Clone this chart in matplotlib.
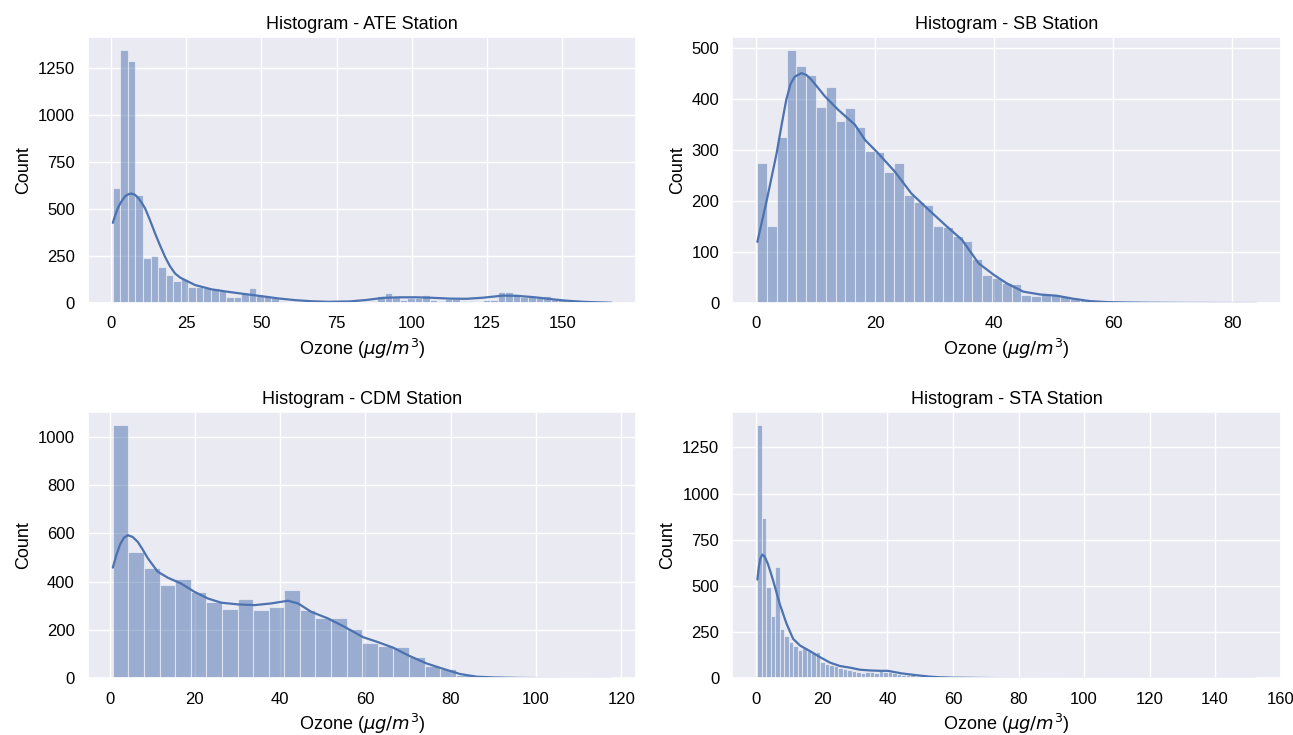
import numpy as np
import matplotlib
matplotlib.use("Agg")
import matplotlib.pyplot as plt
from matplotlib.ticker import MultipleLocator
import seaborn as sns

# histogram bins: first edge, bin width, counts
ate_start, ate_width = 0.66, 2.507
ate_counts = [610, 1348, 1289, 575, 240, 252, 190, 147, 120, 130,
              88, 88, 82, 80, 70, 35, 30, 50, 80, 45,
              38, 28, 13, 8, 5, 3, 2, 2, 1, 1,
              1, 2, 2, 4, 10, 39, 52, 35, 18, 28,
              26, 45, 17, 12, 24, 24, 12, 10, 5, 14,
              18, 57, 57, 46, 30, 36, 36, 40, 22, 18,
              10, 5, 3, 2, 8, 5]
ate_kde_x = [0.66, 1.5, 2.3, 3.1, 4.0, 4.8, 5.8, 6.95, 8.1, 9.2,
             10.3, 11.4, 13.0, 14.7, 16.3, 18.0, 19.6, 21.3, 23.0, 24.7,
             28.0, 33.5, 39.0, 44.6, 50.1, 55.6, 61.1, 66.7, 72.0, 79.4,
             85.0, 90.5, 96.0, 101.5, 107.1, 112.6, 118.2, 123.7, 130.3, 134.7,
             140.3, 145.8, 151.3, 156.9, 162.0, 166.3]
ate_kde_y = [427, 470, 505, 530, 552, 569, 579, 583, 575, 557,
             532, 503, 441, 370, 308, 246, 197, 158, 136, 122,
             96, 73, 60, 48, 37, 25, 16, 10, 7, 9,
             17, 28, 31, 31, 28, 24, 23, 29, 40, 39,
             32, 22, 13, 7, 4, 2]

sb_start, sb_width = 0.22, 1.643
sb_counts = [275, 152, 325, 497, 464, 448, 385, 424, 357, 382,
             346, 299, 296, 258, 274, 212, 198, 192, 152, 150,
             131, 122, 87, 56, 49, 40, 37, 15, 13, 17,
             17, 14, 10, 6, 4, 2, 2, 1, 1, 1,
             0, 1, 0, 0, 1, 0, 0, 0, 0, 0, 1]
sb_kde_x = [0.22, 1.8, 3.46, 4.3, 5.08, 5.8, 6.5, 7.65, 8.5, 9.3,
            11.6, 13.8, 16.6, 18.3, 20.5, 23.3, 26.1, 29.0, 31.8, 34.6,
            37.4, 40.0, 42.1, 44.9, 47.7, 50.5, 53.3, 56.1, 58.9, 61.7,
            66.0, 72.0, 84.0]
sb_kde_y = [120, 202, 294, 350, 399, 430, 444, 451, 447, 438,
            405, 379, 350, 320, 294, 258, 215, 183, 153, 124,
            78, 55, 39, 22.5, 17, 14.5, 8.6, 4, 2, 1.3,
            0.7, 0.3, 0.1]

cdm_start, cdm_width = 0.78, 3.653
cdm_counts = [1048, 523, 456, 386, 410, 357, 315, 285, 328, 284,
              297, 365, 282, 251, 248, 205, 145, 134, 130, 87,
              51, 37, 15, 4, 2, 1, 1, 0, 0, 0, 0, 1]
cdm_kde_x = [0.78, 1.6, 2.5, 3.4, 4.3, 5.4, 6.6, 7.8, 9.0, 11.3,
             13.7, 16.8, 19.9, 23.1, 26.2, 30.1, 34.0, 37.9, 41.8, 44.2,
             47.3, 51.2, 55.1, 59.5, 62.6, 66.5, 70.4, 74.3, 78.3, 82.2,
             86.1, 90.0, 95.5, 103.0, 117.6]
cdm_kde_y = [458, 510, 555, 582, 592, 585, 565, 532, 496, 441,
             416, 392, 358, 330, 313, 306, 303, 310, 321, 310,
             275, 248, 213, 170, 152, 127, 92, 62, 39, 18,
             7, 4, 2, 1, 0.3]

sta_start, sta_width = 0.28, 1.371
sta_counts = [1372, 866, 497, 337, 603, 265, 232, 196, 178, 155,
              166, 151, 139, 142, 88, 79, 70, 65, 58, 52,
              43, 40, 34, 31, 32, 32, 31, 41, 37, 34,
              30, 23, 16, 20, 16, 14, 14, 10, 8, 6,
              5, 4, 3, 3, 2, 2, 2, 1, 1, 1,
              1, 1, 0, 1, 0, 0, 1, 0, 0, 0,
              1, 0, 0, 0, 0, 1, 0, 0, 0, 0,
              0, 0, 1, 0, 0, 0, 0, 0, 0, 0,
              0, 0, 0, 0, 0, 0, 0, 0, 0, 0,
              0, 0, 0, 0, 0, 0, 0, 0, 0, 0,
              0, 0, 0, 0, 0, 0, 0, 0, 0, 0, 1]
sta_kde_x = [0.28, 0.7, 1.2, 1.8, 2.5, 3.5, 4.3, 5.1, 7.1, 9.2,
             11.2, 13.3, 16.3, 19.4, 22.5, 25.5, 28.6, 31.6, 34.7, 37.8,
             40.1, 44.4, 48.5, 52.6, 56.0, 60.0, 70.0, 80.0, 100.0, 152.5]
sta_kde_y = [535, 600, 650, 670, 660, 619, 575, 529, 403, 295,
             214, 178, 148, 115, 85, 67, 58, 47, 43, 41,
             41, 27, 18, 10, 6, 4, 2, 1, 0.5, 0.2]

stations = ["ATE", "SB", "CDM", "STA"]
hists = [
    (ate_start, ate_width, ate_counts, ate_kde_x, ate_kde_y),
    (sb_start, sb_width, sb_counts, sb_kde_x, sb_kde_y),
    (cdm_start, cdm_width, cdm_counts, cdm_kde_x, cdm_kde_y),
    (sta_start, sta_width, sta_counts, sta_kde_x, sta_kde_y),
]
y_steps = [250, 100, 200, 250]

sns.set_theme()
plt.rcParams['font.family'] = ['Liberation Sans', 'DejaVu Sans']
plt.rcParams['mathtext.fontset'] = 'dejavusans'
for key in ['text.color', 'axes.labelcolor', 'xtick.color', 'ytick.color']:
    plt.rcParams[key] = 'black'

color = '#4c72b0'
fig, axes = plt.subplots(2, 2, figsize=(12.93, 7.35), dpi=100)
fig.subplots_adjust(left=0.068, right=0.9907, top=0.9497, bottom=0.077,
                    wspace=0.175, hspace=0.41)

for ax, name, step, (start, width, counts, kx, ky) in zip(axes.flat, stations, y_steps, hists):
    counts = np.array(counts)
    lefts = start + width * np.arange(len(counts))
    ax.bar(lefts, counts, width=width, align='edge',
           color=color, alpha=0.5, edgecolor='white', linewidth=0.8)
    ax.plot(kx, ky, color=color, linewidth=1.6)
    ax.set_ylim(0, counts.max() * 1.05)
    ax.yaxis.set_major_locator(MultipleLocator(step))
    ax.set_title(f'Histogram - {name} Station', fontsize=13)
    ax.set_xlabel(r'Ozone ($\mu g/m^3$)', fontsize=13)
    ax.set_ylabel('Count', fontsize=13)
    ax.tick_params(labelsize=12)

fig.savefig('out.png', dpi=100)
